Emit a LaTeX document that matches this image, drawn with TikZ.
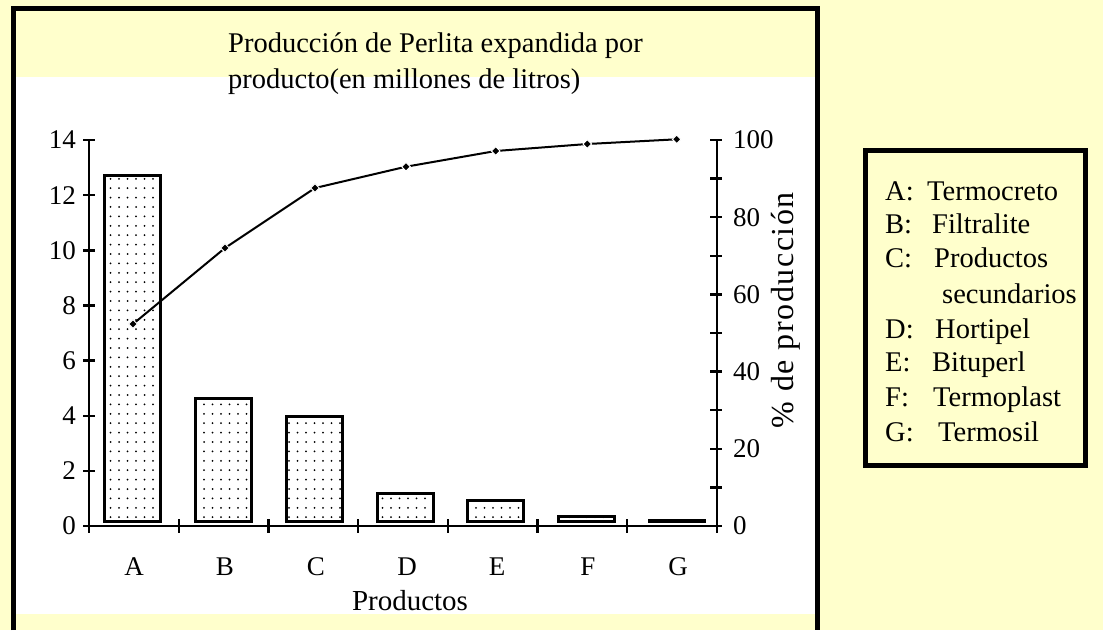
\documentclass[tikz,border=0pt]{standalone}
\usepackage{fontspec}
\setmainfont{Liberation Serif}
\usetikzlibrary{positioning,shapes,patterns}
\definecolor{fondo}{RGB}{255,255,204}
\pgfdeclarepatternformonly{puntos}{\pgfqpoint{-1pt}{-1pt}}{\pgfqpoint{1pt}{1pt}}{\pgfqpoint{8.5pt}{9.4pt}}%
  {\pgfpathcircle{\pgfqpoint{0pt}{0pt}}{1pt}\pgfusepath{fill}}
\tikzstyle{texto} = [
    font=\fontsize{27}{32}\selectfont,
    inner sep=0pt]
\tikzstyle{leyenda} = [
    font=\fontsize{28.5}{32}\selectfont,
    inner sep=0pt,
    anchor=base west]
\tikzstyle{titulo} = [
    font=\fontsize{28.5}{34}\selectfont,
    inner sep=0pt,
    anchor=base west]
\tikzstyle{eje} = [line width=2.4pt]
\tikzstyle{barra} = [draw, line width=3pt, pattern=puntos]
\tikzstyle{punto} = [
    diamond,
    fill=black,
    draw=white,
    line width=1pt,
    inner sep=0pt,
    minimum size=9pt]
\def\yizq#1{526-#1*27.57}
\def\yder#1{526-#1*3.86}

\begin{document}
\begin{tikzpicture}[x=1pt,y=-1pt]
        \useasboundingbox (0,0) rectangle (1103,630);
        \fill[fondo] (0,0) rectangle (1103,630);
        \fill[white] (16,77) rectangle (815,614);
        \draw[line width=5pt] (13.5,630) -- (13.5,8) -- (817.5,8) -- (817.5,630);

        \node[titulo] (tit1) at (228,52) {Producción de Perlita expandida por};
        \node[titulo] (tit2) at (228,88) {producto(en millones de litros)};

        % barras
        \foreach \cx/\tope in {132.5/174, 223.5/396.7, 314/415, 405/492.3, 495/499, 586/515}
            \draw[barra] (\cx-28,521.5) rectangle (\cx+28,\tope+1.5);
        \fill (648,519) rectangle (706,523);

        % ejes
        \draw[eje] (89,140) -- (89,526) -- (717,526) -- (717,140);
        \foreach \v in {0,2,...,14} {
            \draw[eje] (83,{\yizq{\v}}) -- (95,{\yizq{\v}});
            \node[texto, anchor=east] (iz\v) at (76,{\yizq{\v}}) {\v};
        }
        \foreach \v in {0,10,...,100}
            \draw[eje] (710,{\yder{\v}}) -- (722,{\yder{\v}});
        \foreach \v in {0,20,...,100}
            \node[texto, anchor=west] (de\v) at (733,{\yder{\v}}) {\v};
        \foreach \k in {0,...,7}
            \draw[eje] ({89+\k*89.71},519) -- ({89+\k*89.71},533);
        \foreach \c/\cx in {A/134, B/225, C/316, D/407, E/497, F/588, G/678}
            \node[texto, anchor=base] (cat\c) at (\cx,575) {\c};
        \node[texto, anchor=base, font=\fontsize{29}{32}\selectfont] (xlab) at (410,610) {Productos};
        \node[texto, rotate=90, font=\fontsize{32}{34}\selectfont\addfontfeature{LetterSpace=5}] (ylab) at (786,310) {\% de producción};

        % curva acumulada
        \coordinate (cA) at (133,324);
        \coordinate (cB) at (225,248);
        \coordinate (cC) at (315,188);
        \coordinate (cD) at (406,166.7);
        \coordinate (cE) at (495.7,151);
        \coordinate (cF) at (587.3,144);
        \coordinate (cG) at (676.7,139.3);
        \draw[line width=2pt] (cA) -- (cB) -- (cC) -- (cD) -- (cE) -- (cF) -- (cG);
        \foreach \p in {A,...,G}
            \node[punto] (p\p) at (c\p) {};

        % leyenda
        \node[draw, line width=5pt, minimum width=220pt, minimum height=315pt] (ley) at (975.5,308) {};
        \foreach \l/\nom/\xn/\yb [count=\i] in {A:/Termocreto/927/200, B:/Filtralite/932/233.3,
                C:/Productos/934/267.7, /secundarios/942/303.3, D:/Hortipel/935/338.3,
                E:/Bituperl/932/371.7, F:/Termoplast/933/406.7, G:/Termosil/938/441.7} {
            \node[leyenda] (let\i) at (885,\yb) {\l};
            \node[leyenda] (nom\i) at (\xn,\yb) {\nom};
        }
    \end{tikzpicture}
\end{document}
